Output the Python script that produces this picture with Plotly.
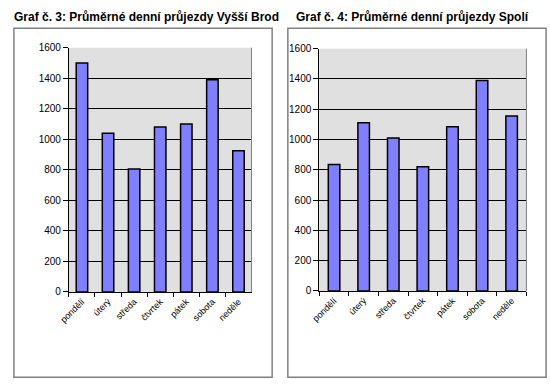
import plotly.graph_objects as go

days = ["pondělí", "úterý", "středa", "čtvrtek", "pátek", "sobota", "neděle"]
vyssi_brod = [1500, 1040, 805, 1080, 1100, 1390, 925]
spoli = [835, 1110, 1010, 820, 1085, 1390, 1155]
title_left = "Graf č. 3: Průměrné denní průjezdy Vyšší Brod"
title_right = "Graf č. 4: Průměrné denní průjezdy Spolí"

W, H = 550, 390
def px(x):
    return x / W
def py(y):
    return (H - y) / H

fig = go.Figure()
fig.add_trace(go.Bar(x=days, y=vyssi_brod, xaxis="x", yaxis="y", width=0.44,
                     marker=dict(color="#8080FF", line=dict(color="black", width=1.5))))
fig.add_trace(go.Bar(x=days, y=spoli, xaxis="x2", yaxis="y2", width=0.39,
                     marker=dict(color="#8080FF", line=dict(color="black", width=1.5))))

font = "Arial, Liberation Sans, sans-serif"
xcommon = dict(type="category", tickson="boundaries", ticks="outside", ticklen=4,
               tickcolor="black", showline=True, linecolor="black", linewidth=1,
               tickangle=-45, tickfont=dict(size=9, color="black", family=font),
               showgrid=False)
ycommon = dict(range=[0, 1600], dtick=200, ticks="outside", ticklen=5, tickcolor="black",
               showline=True, linecolor="black", linewidth=1, showgrid=True,
               gridcolor="black", gridwidth=1, tickfont=dict(size=10, color="black", family=font),
               zeroline=False)

fig.update_layout(
    width=W, height=H, margin=dict(l=0, r=0, t=0, b=0),
    paper_bgcolor="white", plot_bgcolor="#E0E0E0", showlegend=False,
    font=dict(family=font),
    xaxis=dict(domain=[px(60), px(246)], anchor="y", **xcommon),
    yaxis=dict(domain=[py(295), py(43)], anchor="x", **ycommon),
    xaxis2=dict(domain=[px(315), px(526)], anchor="y2", **xcommon),
    yaxis2=dict(domain=[py(294), py(44)], anchor="x2", **ycommon),
)

# outer frames
fig.add_shape(type="rect", xref="paper", yref="paper", x0=px(4), x1=px(267), y0=py(383), y1=py(23),
              line=dict(color="#808080", width=1.5), layer="below")
fig.add_shape(type="rect", xref="paper", yref="paper", x0=px(283), x1=px(546), y0=py(383), y1=py(23),
              line=dict(color="#808080", width=1.5), layer="below")
fig.add_shape(type="line", xref="x domain", yref="y domain", x0=1, x1=1, y0=0, y1=1,
              line=dict(color="#808080", width=1))
fig.add_shape(type="line", xref="x2 domain", yref="y2 domain", x0=1, x1=1, y0=0, y1=1,
              line=dict(color="#808080", width=1))

fig.add_annotation(text="<b>" + title_left + "</b>", xref="paper", yref="paper", x=px(2), y=py(11),
                   xanchor="left", yanchor="middle", showarrow=False,
                   font=dict(size=12, color="black", family=font))
fig.add_annotation(text="<b>" + title_right + "</b>", xref="paper", yref="paper", x=px(289), y=py(11),
                   xanchor="left", yanchor="middle", showarrow=False,
                   font=dict(size=12, color="black", family=font))

post = ("document.body.style.margin='0';document.body.style.padding='0';"
        "document.body.style.overflow='hidden';"
        "var d=document.getElementById('{plot_id}');"
        "d.style.position='fixed';d.style.left='0px';d.style.top='0px';")
fig.write_html("out.html", config={"displayModeBar": False}, post_script=post)
